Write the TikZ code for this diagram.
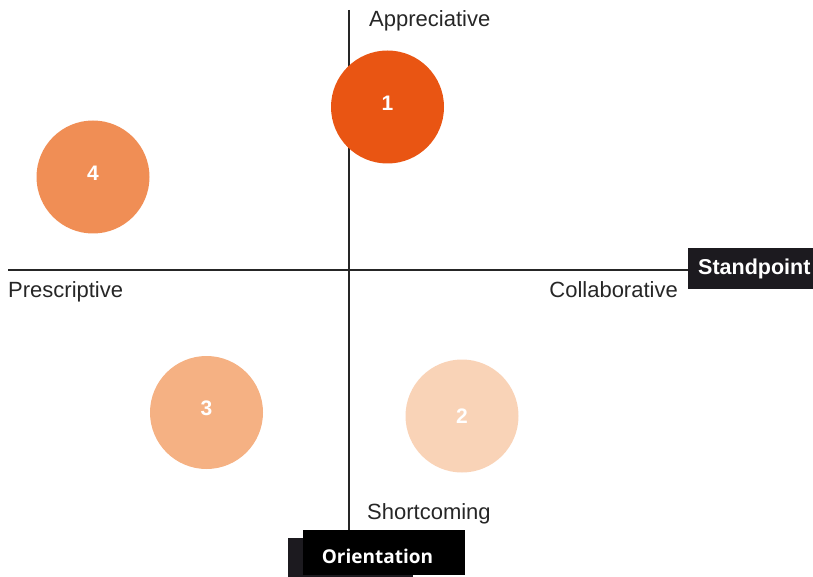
\documentclass[tikz,border=0pt]{standalone}
\usepackage{fontspec}
\setmainfont{Liberation Sans}
\newfontfamily\boxfont{Open Sans}
\usetikzlibrary{positioning}

\definecolor{orangeA}{HTML}{E95513}
\definecolor{orangeB}{HTML}{F9D3B7}
\definecolor{orangeC}{HTML}{F5B183}
\definecolor{orangeD}{HTML}{F08E55}
\definecolor{boxdark}{HTML}{1C1A1F}

% shift a label without changing its box
\newcommand{\nudge}[2]{\raisebox{#1}[\height][\depth]{#2}}

\begin{document}
\begin{tikzpicture}[x=1pt, y=-1pt,
        axis/.style={line width=1.6pt, color=black!85},
        quad/.style={font=\fontsize{22}{26}\selectfont, color=black!85, inner sep=0pt},
        dot/.style={circle, minimum size=113pt, inner sep=0pt, text=white,
            font=\fontsize{21}{24}\selectfont\bfseries},
        tag/.style={fill=boxdark, text=white, inner sep=0pt}]
    \useasboundingbox (0,0) rectangle (813,577);
    \clip (0,0) rectangle (813,577);

    % axis labels (boxes)
    \fill[boxdark] (288,538) rectangle (413,577);
    \node[tag, fill=black, minimum width=162pt, minimum height=45pt, font=\boxfont\fontsize{19}{22}\selectfont\bfseries] (orient) at (384,552.5) {\nudge{-4pt}{Orientation}\kern13pt};
    \node[tag, minimum height=41pt, anchor=west, font=\fontsize{21.5}{24}\selectfont\bfseries] (stand) at (688,268.5) {\kern10pt Standpoint\kern6pt};

    % axes
    \coordinate (west) at (8,270);
    \coordinate (north) at (349,10);
    \draw[axis] (west) -- (west -| stand.west);
    \draw[axis] (north) -- (orient.north -| north);

    % quadrant labels
    \node[quad, anchor=base west] (appr) at (369,27) {Appreciative};
    \node[quad, anchor=base west] (short) at (367,519) {Shortcoming};
    \node[quad, anchor=base west] (presc) at (8,297) {Prescriptive};
    \node[quad, anchor=base east] (collab) at (678,297) {Collaborative};

    % bubbles
    \node[dot, fill=orangeA] (one) at (387.5,107) {\nudge{4pt}{1}};
    \node[dot, fill=orangeB] (two) at (462,416) {2};
    \node[dot, fill=orangeC] (three) at (206.5,412.5) {\nudge{4pt}{3}};
    \node[dot, fill=orangeD] (four) at (93,177) {\nudge{4pt}{4}};
\end{tikzpicture}
\end{document}
